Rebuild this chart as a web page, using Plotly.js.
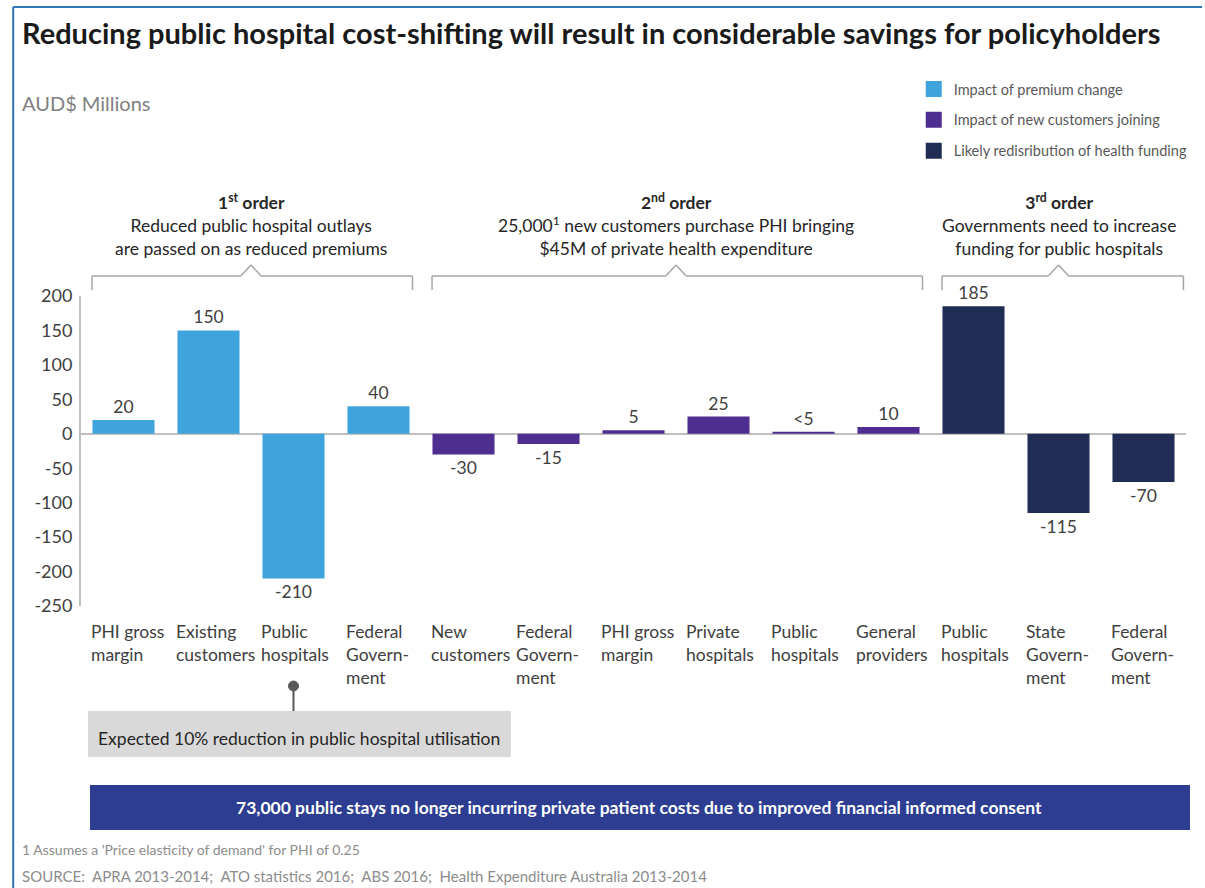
<!DOCTYPE html>
<html>
<head>
<meta charset="utf-8">
<script src="https://cdn.plot.ly/plotly-3.0.1.min.js"></script>
<style>
  html, body { margin: 0; padding: 0; background: #ffffff; }
  #chart { width: 1205px; height: 888px; }
</style>
</head>
<body>
<div id="chart"></div>
<script>
// ---------- DATA ----------
const categories = [
  "PHI gross<br>margin", "Existing<br>customers", "Public<br>hospitals", "Federal<br>Govern-<br>ment",
  "New<br>customers", "Federal<br>Govern-<br>ment", "PHI gross<br>margin", "Private<br>hospitals",
  "Public<br>hospitals", "General<br>providers", "Public<br>hospitals", "State<br>Govern-<br>ment",
  "Federal<br>Govern-<br>ment"
];
const premiumIdx = [0, 1, 2, 3];
const premiumValues = [20, 150, -210, 40];
const premiumLabels = ["20", "150", "-210", "40"];

const newCustIdx = [4, 5, 6, 7, 8, 9];
const newCustValues = [-30, -15, 5, 25, 3, 10];
const newCustLabels = ["-30", "-15", "5", "25", "<5", "10"];

const redistIdx = [10, 11, 12];
const redistValues = [185, -115, -70];
const redistLabels = ["185", "-115", "-70"];

const seriesNames = ["Impact of premium change", "Impact of new customers joining", "Likely redisribution of health funding"];
const yTicks = [200, 150, 100, 50, 0, -50, -100, -150, -200, -250];

const groups = [
  {first: 0, last: 3, text: "<b>1<sup>st</sup> order</b><br>Reduced public hospital outlays<br>are passed on as reduced premiums"},
  {first: 4, last: 9, text: "<b>2<sup>nd</sup> order</b><br>25,000<sup>1</sup> new customers purchase PHI bringing<br>$45M of private health expenditure"},
  {first: 10, last: 12, text: "<b>3<sup>rd</sup> order</b><br>Governments need to increase<br>funding for public hospitals"}
];

// ---------- STYLE ----------
const FONT = "Lato, 'Open Sans', sans-serif";
const colors = ["#3FA4DC", "#4F2E92", "#1F2D55"];
const textGray = "#404040";

// plot area in pixels (for decorative placement)
const L = 81, R = 1189, T = 296, B = 606;
const px = x => (x - L) / (R - L);
const py = y => (B - y) / (B - T);

function barTrace(idx, vals, labels, name, color, grp) {
  return {
    type: "bar",
    x: idx, y: vals, name: name,
    text: labels, textposition: "outside",
    textfont: {family: FONT, size: 17.5, color: textGray},
    marker: {color: color},
    cliponaxis: false,
    legendgroup: grp,
    hoverinfo: "skip"
  };
}

const data = [
  barTrace(premiumIdx, premiumValues, premiumLabels, seriesNames[0], colors[0], "a"),
  barTrace(newCustIdx, newCustValues, newCustLabels, seriesNames[1], colors[1], "b"),
  barTrace(redistIdx, redistValues, redistLabels, seriesNames[2], colors[2], "c")
];

const annotations = [];
const shapes = [];

// title
annotations.push({xref: "paper", yref: "paper", x: px(20), y: py(32), xanchor: "left", yanchor: "middle",
  text: "<b>Reducing public hospital cost-shifting will result in considerable savings for policyholders</b>",
  showarrow: false, font: {family: FONT, size: 29, color: "#1a1a1a"}});
// unit label
annotations.push({xref: "paper", yref: "paper", x: px(20), y: py(103), xanchor: "left", yanchor: "middle",
  text: "AUD$ Millions", showarrow: false, font: {family: FONT, size: 20, color: "#808080"}});

// category labels
categories.forEach((c, i) => {
  annotations.push({xref: "x", yref: "paper", x: i, xshift: -35, y: py(619), xanchor: "left", yanchor: "top",
    align: "left", text: c, showarrow: false, font: {family: FONT, size: 17.5, color: textGray}});
});

// group headers and brackets
const yLine = py(276), yEnd = py(290), yPeak = py(265);
groups.forEach(g => {
  const center = (g.first + g.last) / 2;
  annotations.push({xref: "x", yref: "paper", x: center, y: py(188), xanchor: "center", yanchor: "top",
    align: "center", text: g.text, showarrow: false, font: {family: FONT, size: 17.5, color: "#262626"}});
  const x0 = g.first - 0.37, x1 = g.last + 0.4 + (g.last === 12 ? 0.07 : 0);
  const pts = [[x0, yEnd], [x0, yLine], [center - 0.12, yLine], [center, yPeak], [center + 0.12, yLine], [x1, yLine], [x1, yEnd]];
  pts.slice(1).forEach((p, k) => {
    const q = pts[k];
    shapes.push({type: "line", xref: "x", yref: "paper", x0: q[0], y0: q[1], x1: p[0], y1: p[1],
      line: {color: "#a6a6a6", width: 1.5}});
  });
});

// callout for public hospitals
shapes.push({type: "line", xref: "x", yref: "paper", x0: 2, x1: 2, y0: py(686), y1: py(711),
  line: {color: "#595959", width: 2}});
shapes.push({type: "circle", xref: "x", yref: "paper", xsizemode: "pixel", ysizemode: "pixel",
  xanchor: 2, yanchor: py(686), x0: -5, x1: 5, y0: -5, y1: 5,
  fillcolor: "#595959", line: {color: "#595959", width: 1}});
shapes.push({type: "rect", xref: "paper", yref: "paper", x0: px(88), x1: px(512), y0: py(711), y1: py(757),
  fillcolor: "#d9d9d9", line: {width: 0}, layer: "below"});
annotations.push({xref: "paper", yref: "paper", x: px(300), y: py(738), xanchor: "center", yanchor: "middle",
  text: "Expected 10% reduction in public hospital utilisation", showarrow: false,
  font: {family: FONT, size: 17.5, color: "#262626"}});

// banner
shapes.push({type: "rect", xref: "paper", yref: "paper", x0: px(90), x1: px(1193), y0: py(785), y1: py(830),
  fillcolor: "#2C3D92", line: {width: 0}});
annotations.push({xref: "paper", yref: "paper", x: px(641), y: py(807), xanchor: "center", yanchor: "middle",
  text: "<b>73,000 public stays no longer incurring private patient costs due to improved financial informed consent</b>",
  showarrow: false, font: {family: FONT, size: 17.5, color: "#ffffff"}});

// footnotes
annotations.push({xref: "paper", yref: "paper", x: px(20), y: py(849), xanchor: "left", yanchor: "middle",
  text: "1 Assumes a 'Price elasticity of demand' for PHI of 0.25", showarrow: false,
  font: {family: FONT, size: 14, color: "#8c8c8c"}});
annotations.push({xref: "paper", yref: "paper", x: px(20), y: py(876), xanchor: "left", yanchor: "middle",
  text: "SOURCE:  APRA 2013-2014;  ATO statistics 2016;  ABS 2016;  Health Expenditure Australia 2013-2014",
  showarrow: false, font: {family: FONT, size: 15, color: "#8c8c8c"}});

// outer frame (blue lines top and left)
shapes.push({type: "line", xref: "paper", yref: "paper", x0: px(13), x1: px(1205), y0: py(7), y1: py(7),
  line: {color: "#2E75B6", width: 2}});
shapes.push({type: "line", xref: "paper", yref: "paper", x0: px(13), x1: px(13), y0: py(7), y1: py(888),
  line: {color: "#2E75B6", width: 2}});

const layout = {
  width: 1205, height: 888,
  margin: {l: L, r: 1205 - R, t: T, b: 888 - B, pad: 0},
  paper_bgcolor: "#ffffff", plot_bgcolor: "#ffffff",
  barmode: "overlay", bargap: 0.27,
  font: {family: FONT, color: textGray},
  showlegend: true,
  legend: {x: px(916), y: py(73), xanchor: "left", yanchor: "top", traceorder: "grouped", tracegroupgap: 9,
    itemwidth: 30, font: {family: FONT, size: 14.5, color: "#595959"}, bgcolor: "rgba(0,0,0,0)"},
  xaxis: {range: [-0.5, 12.5], showticklabels: false, showgrid: false, zeroline: false, showline: false, ticks: "",
    fixedrange: true},
  yaxis: {range: [-250, 200], tickvals: yTicks, ticktext: yTicks.map(String), showgrid: false,
    zeroline: true, zerolinecolor: "#bfbfbf", zerolinewidth: 2,
    showline: true, linecolor: "#bfbfbf", linewidth: 2, ticks: "", ticklabelstandoff: 3,
    tickfont: {family: FONT, size: 18, color: textGray}, fixedrange: true},
  annotations: annotations,
  shapes: shapes
};

Plotly.newPlot("chart", data, layout, {displayModeBar: false, staticPlot: true}).then(() => {
  // enlarge legend swatches to match reference squares
  document.querySelectorAll(".legend .legendpoints path").forEach(p => {
    p.setAttribute("d", "M8,8H-8V-8H8Z");
  });
});
</script>
</body>
</html>
